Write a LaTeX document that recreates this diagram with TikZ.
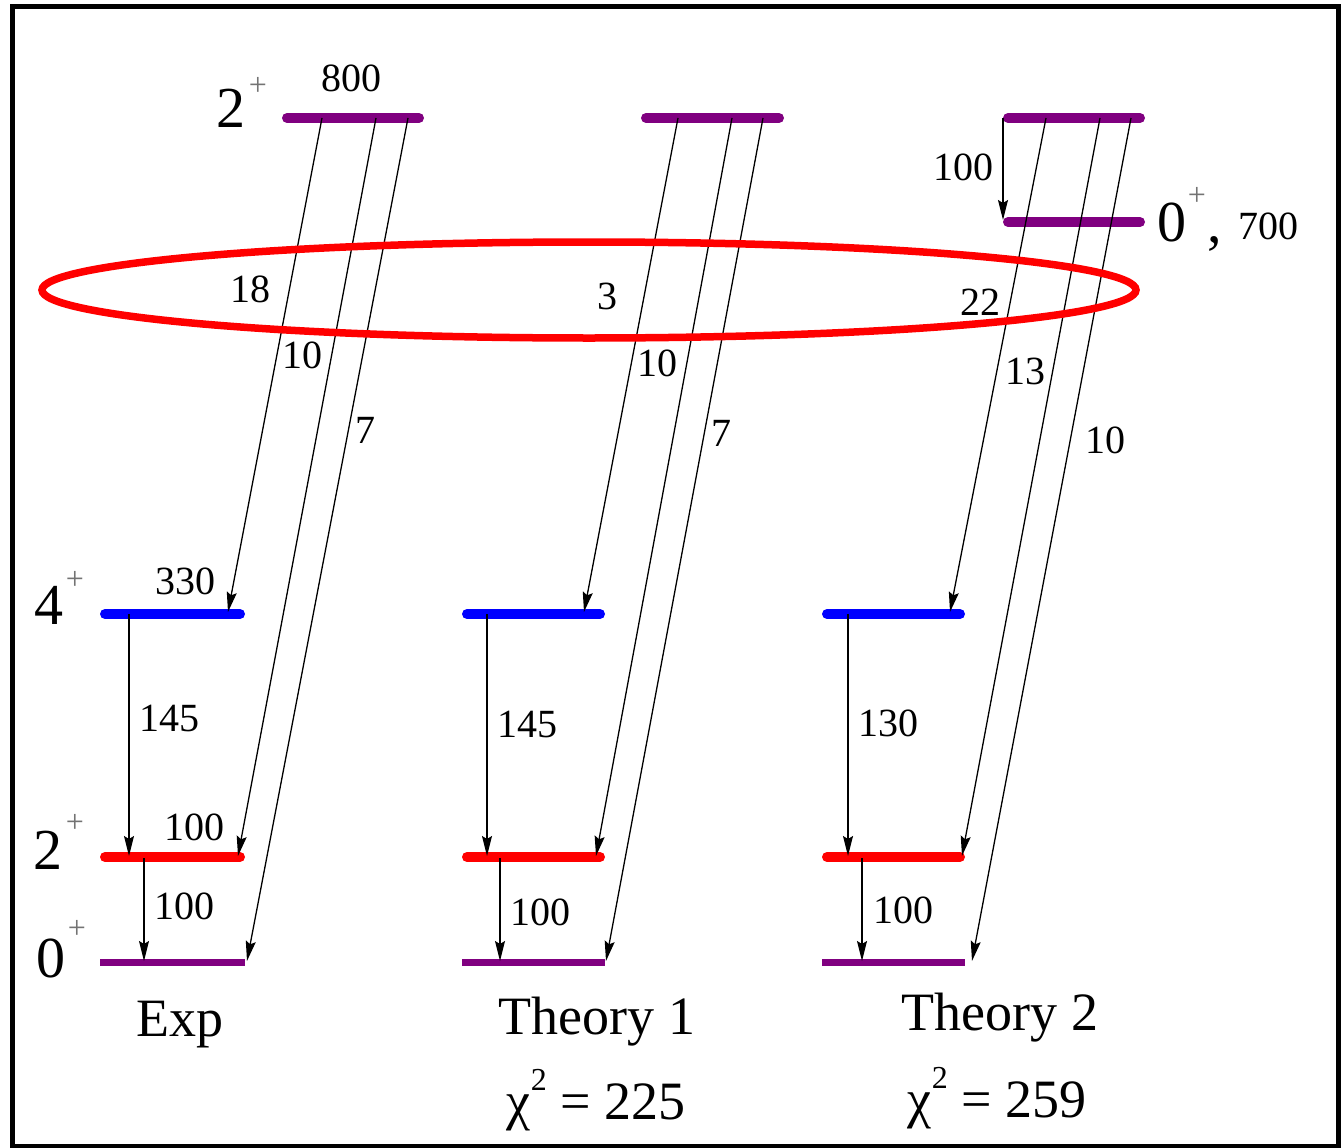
\documentclass[tikz,border=0pt]{standalone}
\usepackage{fontspec}
\setmainfont{Liberation Serif}
\usetikzlibrary{arrows.meta}
\definecolor{lvpurple}{RGB}{128,0,128}
\definecolor{lvblue}{RGB}{0,0,255}
\definecolor{lvred}{RGB}{255,0,0}
\begin{document}
\begin{tikzpicture}[x=1pt,y=-1pt,
  lev/.style={line width=10pt,line cap=round},
  levthin/.style={line width=7pt},
  tr/.style={line width=1.3pt,-{Stealth[length=20pt,width=10pt,inset=3pt]}},
  num/.style={font=\fontsize{40}{44}\selectfont,inner sep=0pt},
  big/.style={font=\fontsize{58}{62}\selectfont,inner sep=0pt},
  sup/.style={font=\fontsize{32}{34}\selectfont,text=black!55,inner sep=0pt},
  ttl/.style={font=\fontsize{54}{58}\selectfont,inner sep=0pt},
]
\useasboundingbox (0,0) rectangle (1344,1148);
\draw[line width=5pt] (12,7) rectangle (1338,1146);

% ---------- level coordinates ----------
% Exp
\coordinate (eTL) at (287,118); \coordinate (eTR) at (419,118);
\coordinate (e4L) at (105,614); \coordinate (e4R) at (240,614);
\coordinate (e2L) at (105,857); \coordinate (e2R) at (240,857);
\coordinate (e0L) at (100,962); \coordinate (e0R) at (245,962);
% Theory 1
\coordinate (aTL) at (646,118); \coordinate (aTR) at (779,118);
\coordinate (a4L) at (467,614); \coordinate (a4R) at (600,614);
\coordinate (a2L) at (467,857); \coordinate (a2R) at (600,857);
\coordinate (a0L) at (462,962); \coordinate (a0R) at (605,962);
% Theory 2
\coordinate (bTL) at (1008,118); \coordinate (bTR) at (1140,118);
\coordinate (bEL) at (1008,222); \coordinate (bER) at (1140,222);
\coordinate (b4L) at (827,614); \coordinate (b4R) at (960,614);
\coordinate (b2L) at (827,857); \coordinate (b2R) at (960,857);
\coordinate (b0L) at (822,962); \coordinate (b0R) at (965,962);

% ---------- levels ----------
\draw[lev,lvpurple] (eTL) -- (eTR);
\draw[lev,lvblue] (e4L) -- (e4R);
\draw[lev,lvred] (e2L) -- (e2R);
\draw[levthin,lvpurple] (e0L) -- (e0R);
\draw[lev,lvpurple] (aTL) -- (aTR);
\draw[lev,lvblue] (a4L) -- (a4R);
\draw[lev,lvred] (a2L) -- (a2R);
\draw[levthin,lvpurple] (a0L) -- (a0R);
\draw[lev,lvpurple] (bTL) -- (bTR);
\draw[lev,lvpurple] (bEL) -- (bER);
\draw[lev,lvblue] (b4L) -- (b4R);
\draw[lev,lvred] (b2L) -- (b2R);
\draw[levthin,lvpurple] (b0L) -- (b0R);

% ---------- transition end points ----------
% Exp
\coordinate (es1) at (322,118); \coordinate (ee1) at (228,612);
\coordinate (es2) at (376,118); \coordinate (ee2) at (238,856);
\coordinate (es3) at (408,118); \coordinate (ee3) at (247,961);
\coordinate (es4) at (129,614); \coordinate (ee4) at (129,856);
\coordinate (es5) at (144,858); \coordinate (ee5) at (144,961);
% Theory 1
\coordinate (as1) at (678,118); \coordinate (ae1) at (584,612);
\coordinate (as2) at (732,118); \coordinate (ae2) at (596,856);
\coordinate (as3) at (763,118); \coordinate (ae3) at (606,961);
\coordinate (as4) at (487,614); \coordinate (ae4) at (487,856);
\coordinate (as5) at (500,858); \coordinate (ae5) at (500,961);
% Theory 2
\coordinate (bs0) at (1003,118); \coordinate (be0) at (1003,220);
\coordinate (bs1) at (1046,118); \coordinate (be1) at (950,612);
\coordinate (bs2) at (1100,118); \coordinate (be2) at (962,856);
\coordinate (bs3) at (1131,118); \coordinate (be3) at (972,961);
\coordinate (bs4) at (848,614); \coordinate (be4) at (848,856);
\coordinate (bs5) at (862,858); \coordinate (be5) at (862,961);

\foreach \p in {e,a} {
  \foreach \i in {1,...,5} { \draw[tr] (\p s\i) -- (\p e\i); }
}
\foreach \i in {0,...,5} { \draw[tr] (bs\i) -- (be\i); }

% ---------- ellipse ----------
\draw[lvred,line width=7.5pt] (589,290) ellipse [x radius=547, y radius=48];

% ---------- labels: Exp ----------
\node[big] (l2t) at (231,108) {2};
\node[sup] (l2tp) at (258,86) {+};
\node[num] (n800) at (351,78) {800};
\node[big] (l4) at (49,605) {4};
\node[sup] (l4p) at (75,580) {+};
\node[big] (l2) at (48,850) {2};
\node[sup] (l2p) at (75,823) {+};
\node[big] (l0) at (51,958) {0};
\node[sup] (l0p) at (77,929) {+};
\node[num] (n18) at (250,289) {18};
\node[num] (ne10) at (302,355) {10};
\node[num] (ne7) at (365,430) {7};
\node[num] (n330) at (185,581) {330};
\node[num] (ne145) at (169,718) {145};
\node[num] (ne100a) at (194,827) {100};
\node[num] (ne100b) at (184,906) {100};
\node[ttl] (texp) at (180,1025) {Exp};

% ---------- labels: Theory 1 ----------
\node[num] (n3) at (607,296) {3};
\node[num] (na10) at (657,363) {10};
\node[num] (na7) at (721,433) {7};
\node[num] (na145) at (527,724) {145};
\node[num] (na100) at (540,912) {100};
\node[ttl] (tth1) at (597,1022) {Theory 1};
\node[ttl] (chi1) at (596,1100) {χ\raisebox{0.55em}{\fontsize{32}{34}\selectfont 2} = 225};

% ---------- labels: Theory 2 ----------
\node[num] (nb100a) at (963,167) {100};
\node[num] (n22) at (980,302) {22};
\node[num] (n13) at (1025,371) {13};
\node[num] (nb10) at (1105,440) {10};
\node[num] (n130) at (888,723) {130};
\node[num] (nb100b) at (903,910) {100};
\node[big] (l0e) at (1172,222) {0};
\node[sup] (l0ep) at (1197,196) {+};
\node[big] (lcomma) at (1215,244) {,};
\node[num] (n700) at (1268,226) {700};
\node[ttl] (tth2) at (1000,1018) {Theory 2};
\node[ttl] (chi2) at (997,1098) {χ\raisebox{0.55em}{\fontsize{32}{34}\selectfont 2} = 259};
\end{tikzpicture}
\end{document}
